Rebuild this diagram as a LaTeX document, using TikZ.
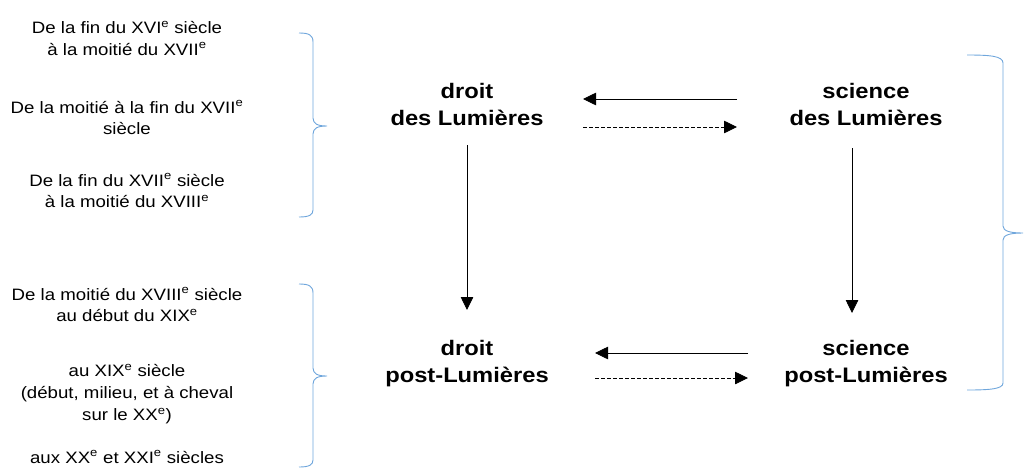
\documentclass[tikz,border=0pt]{standalone}
\usepackage{fontspec}
\setmainfont{Liberation Sans}[FakeStretch=1.13]
\usetikzlibrary{arrows.meta,calc}
\definecolor{bracecol}{HTML}{6FA6DC}
\newcommand\myperiodstrut{\rule{0pt}{14pt}}
\newcommand\myconceptstrut{\rule{0pt}{18pt}}
\begin{document}
\begin{tikzpicture}[x=1pt,y=-1pt,
  period/.style={anchor=north, align=center, inner sep=0pt, font=\fontsize{16.5}{21.7}\selectfont},
  concept/.style={anchor=north, align=center, inner sep=0pt, font=\bfseries\fontsize{21}{27}\selectfont},
  infl/.style={-{Triangle[length=13pt,width=12.5pt]}, line width=0.8pt},
  weak/.style={infl, dash pattern=on 3.5pt off 2.5pt},
  brace/.style={draw=bracecol, line width=0.9pt}]
\useasboundingbox (0,0) rectangle (1025,469);
% periods
\node[period] (p1) at (127,19.3) {\myperiodstrut De la fin du XVI\textsuperscript{e} siècle\\ à la moitié du XVII\textsuperscript{e}};
\node[period] (p2) at (127,99) {\myperiodstrut De la moitié à la fin du XVII\textsuperscript{e}\\ siècle};
\node[period] (p3) at (127,172) {\myperiodstrut De la fin du XVII\textsuperscript{e} siècle\\ à la moitié du XVIII\textsuperscript{e}};
\node[period] (p4) at (127,286) {\myperiodstrut De la moitié du XVIII\textsuperscript{e} siècle\\ au début du XIX\textsuperscript{e}};
\node[period] (p5) at (127,362.7) {\myperiodstrut au XIX\textsuperscript{e} siècle\\ (début, milieu, et à cheval\\ sur le XX\textsuperscript{e})};
\node[period] (p6) at (127,449) {\myperiodstrut aux XX\textsuperscript{e} et XXI\textsuperscript{e} siècles};
% concepts
\node[concept] (droitL) at (467,80) {\myconceptstrut droit\\ des Lumières};
\node[concept] (sciL) at (866,80) {\myconceptstrut science\\ des Lumières};
\node[concept] (droitP) at (467,337) {\myconceptstrut droit\\ post-Lumières};
\node[concept] (sciP) at (866,337) {\myconceptstrut science\\ post-Lumières};
% connectors
\draw[infl] ($(sciL.north)+(-129,19)$) -- ($(droitL.north)+(116,19)$);
\draw[weak] ($(droitL.north)+(116,47)$) -- ($(sciL.north)+(-129,47)$);
\draw[infl] ($(sciP.north)+(-118,16)$) -- ($(droitP.north)+(128,16)$);
\draw[weak] ($(droitP.north)+(128,41)$) -- ($(sciP.north)+(-118,41)$);
\draw[infl] ($(droitL.north)+(0,65)$) -- ($(droitP.north)+(0,-27)$);
\draw[infl] ($(sciL.north)+(-14,68)$) -- ($(sciP.north)+(-14,-24)$);
% braces
\draw[brace] (299,33) .. controls (309,33) and (313,35) .. (313,42) -- (313,118)
  .. controls (313,124) and (318,126) .. (327,126)
  .. controls (318,126) and (313,128) .. (313,134) -- (313,210)
  .. controls (313,215) and (309,217) .. (299,217);
\draw[brace] (299,284) .. controls (309,284) and (313,286) .. (313,293) -- (313,368)
  .. controls (313,374) and (318,376) .. (327,376)
  .. controls (318,376) and (313,378) .. (313,384) -- (313,460)
  .. controls (313,465) and (309,467) .. (299,467);
\draw[brace] (967,55) .. controls (990,55) and (1003,56) .. (1003,63) -- (1003,226)
  .. controls (1003,231) and (1010,233) .. (1023,233)
  .. controls (1010,233) and (1003,235) .. (1003,240) -- (1003,383)
  .. controls (1003,389) and (990,390) .. (967,390);
\end{tikzpicture}
\end{document}
